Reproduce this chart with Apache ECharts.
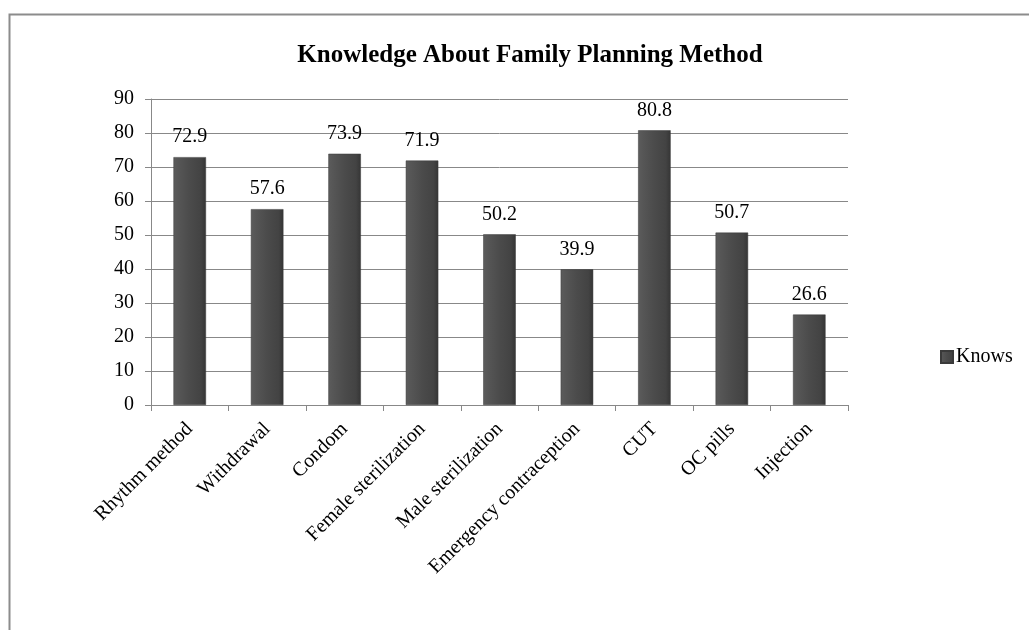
<!DOCTYPE html>
<html>
<head>
<meta charset="utf-8">
<script src="https://cdn.jsdelivr.net/npm/echarts@6/dist/echarts.min.js"></script>
<style>html,body{margin:0;padding:0;background:#fff;}#c{width:1029px;height:630px;}</style>
</head>
<body>
<div id="c"></div>
<script>
var categories = ['Rhythm method','Withdrawal','Condom','Female sterilization','Male sterilization','Emergency contraception','CUT','OC pills','Injection'];
var knows = [72.9, 57.6, 73.9, 71.9, 50.2, 39.9, 80.8, 50.7, 26.6];
var seriesName = 'Knows';
var titleText = 'Knowledge About Family Planning Method';

var chart = echarts.init(document.getElementById('c'));
var font = 'Liberation Serif';
var barColor = new echarts.graphic.LinearGradient(0,0,1,0,[
  {offset:0,color:'#5c5c5c'},{offset:0.15,color:'#565656'},{offset:0.5,color:'#4b4b4b'},{offset:0.85,color:'#434343'},{offset:1,color:'#353535'}
]);
chart.setOption({
  animation:false,
  backgroundColor:'#fff',
  textStyle:{fontFamily:font},
  graphic:[{type:'rect',shape:{x:9.5,y:14.5,width:1100,height:700},style:{fill:'none',stroke:'#8c8c8c',lineWidth:2},silent:true}],
  title:{text:titleText,left:525,textAlign:'center',top:38,textStyle:{fontFamily:font,fontWeight:'bold',fontSize:25,color:'#000'}},
  legend:{data:[seriesName],left:935,top:342,itemWidth:12,itemHeight:12,itemGap:4,icon:'rect',textStyle:{fontFamily:font,fontSize:20,color:'#000',padding:[0,0,0,-2]}},
  grid:{left:151,right:181,top:99,bottom:225,containLabel:false},
  xAxis:{type:'category',data:categories,
    axisLine:{lineStyle:{color:'#888',width:1}},
    axisTick:{show:true,length:6,lineStyle:{color:'#888'}},
    axisLabel:{rotate:45,fontFamily:font,fontSize:20,color:'#000',margin:21,interval:0}},
  yAxis:{type:'value',min:0,max:90,interval:10,
    axisLine:{show:true,lineStyle:{color:'#888'}},
    axisTick:{show:true,length:6,lineStyle:{color:'#888'}},
    splitLine:{lineStyle:{color:'#888',width:1}},
    axisLabel:{fontFamily:font,fontSize:20,color:'#000',margin:17}},
  series:[{name:seriesName,type:'bar',data:knows,barWidth:'42%',
    itemStyle:{color:barColor,borderColor:'#3a3a3a',borderWidth:0.5},
    label:{show:true,position:'top',fontFamily:font,fontSize:20,color:'#000',distance:10}}]
});
</script>
</body>
</html>
